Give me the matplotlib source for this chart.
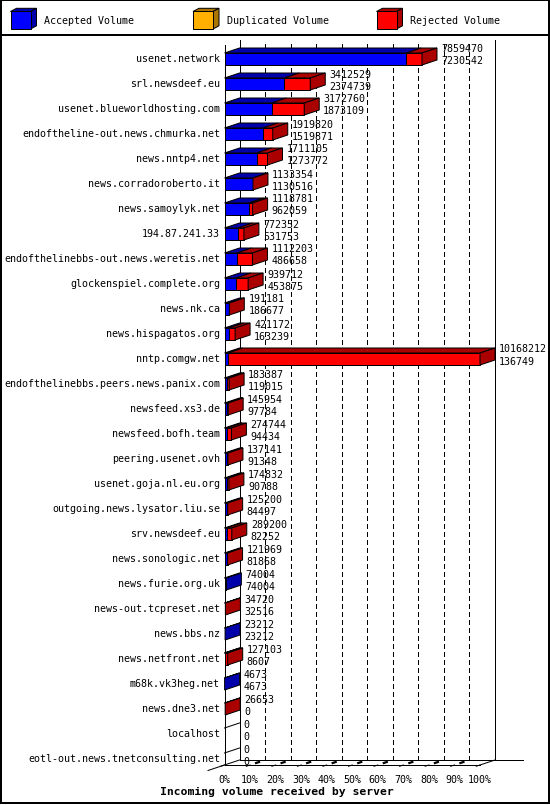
import matplotlib
matplotlib.use("Agg")
import matplotlib.pyplot as plt
from matplotlib.patches import Polygon, Rectangle
from matplotlib.lines import Line2D
from matplotlib.transforms import ScaledTranslation

# ---------------- data ----------------
servers = [
    "usenet.network", "srl.newsdeef.eu", "usenet.blueworldhosting.com",
    "endoftheline-out.news.chmurka.net", "news.nntp4.net",
    "news.corradoroberto.it", "news.samoylyk.net", "194.87.241.33",
    "endofthelinebbs-out.news.weretis.net", "glockenspiel.complete.org",
    "news.nk.ca", "news.hispagatos.org", "nntp.comgw.net",
    "endofthelinebbs.peers.news.panix.com", "newsfeed.xs3.de",
    "newsfeed.bofh.team", "peering.usenet.ovh", "usenet.goja.nl.eu.org",
    "outgoing.news.lysator.liu.se", "srv.newsdeef.eu", "news.sonologic.net",
    "news.furie.org.uk", "news-out.tcpreset.net", "news.bbs.nz",
    "news.netfront.net", "m68k.vk3heg.net", "news.dne3.net", "localhost",
    "eotl-out.news.tnetconsulting.net",
]
total_volume = [
    7859470, 3412529, 3172760, 1919820, 1711105, 1133354, 1118781, 772352,
    1112203, 939712, 191181, 421172, 10168212, 183387, 145954, 274744,
    137141, 174832, 125200, 289200, 121969, 74004, 34720, 23212, 127103,
    4673, 26653, 0, 0,
]
accepted_volume = [
    7230542, 2374739, 1873109, 1519871, 1273772, 1130516, 962059, 531753,
    486658, 453875, 186677, 163239, 136749, 119015, 97784, 94434, 91348,
    90788, 84497, 82252, 81868, 74004, 32516, 23212, 8607, 4673, 0, 0, 0,
]
duplicated_volume = [0] * len(servers)
rejected_volume = [t - a - d for t, a, d in
                   zip(total_volume, accepted_volume, duplicated_volume)]

series_names = ["Accepted Volume", "Duplicated Volume", "Rejected Volume"]
x_tick_labels = ["0%", "10%", "20%", "30%", "40%", "50%",
                 "60%", "70%", "80%", "90%", "100%"]
x_title = "Incoming volume received by server"

# ---------------- style ----------------
W, H, DPI = 550, 805, 100
FONT = "DejaVu Sans Mono"
FS = 7.2
FRONT = ["#0000ff", "#ffb000", "#ff0000"]
DARK = ["#0000aa", "#aa7500", "#aa0000"]
LW = 0.72
DEPTH_X, DEPTH_Y = 15, 5          # pixels (right, up)

fig = plt.figure(figsize=(W / DPI, H / DPI), dpi=DPI)
fig.patch.set_facecolor("white")

# front plane of the 3D chart
L_PX, R_PX, T_PX, B_PX = 224.5, 480.0, 45.0, 765.0
ROW_PX, FIRST_PX = 25.0, 59.0
ax = fig.add_axes([L_PX / W, (H - B_PX) / H, (R_PX - L_PX) / W, (B_PX - T_PX) / H])
ax.set_axis_off()
vmax = max(total_volume)
ax.set_xlim(0, vmax)
ax.set_ylim((B_PX - FIRST_PX) / ROW_PX, (T_PX - FIRST_PX) / ROW_PX)

# depth expressed in data units
dx = DEPTH_X / (R_PX - L_PX) * vmax
dy = -DEPTH_Y / ROW_PX
half = 6.0 / ROW_PX


def shift(px, py):
    return ScaledTranslation(px / DPI, py / DPI, fig.dpi_scale_trans)


xa = ax.get_xaxis_transform()            # x data, y axes
xa_back = xa + shift(DEPTH_X, DEPTH_Y)
axes_back = ax.transAxes + shift(DEPTH_X, DEPTH_Y)

line_kw = dict(color="black", lw=LW, clip_on=False, antialiased=False, zorder=1)

# back wall and grid
for k in range(0, 11):
    x = vmax * k / 10
    ls = "-" if k in (0, 10) else (0, (5, 4))
    ax.add_line(Line2D([x, x], [0, 1], transform=xa_back, ls=ls, **line_kw))
# front left axis
ax.add_line(Line2D([0, 0], [0, 1], transform=ax.transAxes, **line_kw))
# floor lines
ax.add_line(Line2D([0, 1.11], [0, 0], transform=axes_back, **line_kw))
ax.add_line(Line2D([0, 1], [0, 0], transform=ax.transAxes, **line_kw))


def depth_line(x_data, t0, t1, lw=LW):
    p0 = (xa + shift(t0 * DEPTH_X, t0 * DEPTH_Y)).transform((x_data, 0))
    p1 = (xa + shift(t1 * DEPTH_X, t1 * DEPTH_Y)).transform((x_data, 0))
    ax.add_line(Line2D([p0[0], p1[0]], [p0[1], p1[1]], transform=None,
                       color="black", lw=lw, clip_on=False, zorder=1))


depth_line(vmax, 0, 1)
depth_line(0, -1.1, 1)
for k in range(0, 11):
    x = vmax * k / 10
    depth_line(x, 0.0, -0.25)
    if 0 < k < 10:
        depth_line(x, 0.4, 0.6, lw=1.6)

# bars
for i in range(len(servers)):
    segs = [accepted_volume[i], duplicated_volume[i], rejected_volume[i]]
    top, bot = i - half, i + half
    x0 = 0.0
    last = None
    for k, v in enumerate(segs):
        if v <= 0:
            continue
        x1 = x0 + v
        ax.add_patch(Polygon([(x0, top), (x1, top), (x1 + dx, top + dy), (x0 + dx, top + dy)],
                             closed=True, fc=DARK[k], ec="black", lw=LW,
                             clip_on=False, zorder=3))
        ax.add_patch(Rectangle((x0, top), v, bot - top, fc=FRONT[k], ec="black",
                               lw=LW, clip_on=False, zorder=3))
        x0 = x1
        last = k
    if last is not None:
        ax.add_patch(Polygon([(x0, top), (x0, bot), (x0 + dx, bot + dy), (x0 + dx, top + dy)],
                             closed=True, fc=DARK[last], ec="black", lw=LW,
                             clip_on=False, zorder=3))
    else:
        ax.add_line(Line2D([0, dx], [top, top + dy], color="black", lw=LW,
                           clip_on=False, zorder=3))
    # value labels
    lab_tr = ax.transData + shift(4, 0)
    ax.text(x0 + dx, i - 9.5 / ROW_PX, str(total_volume[i]), transform=lab_tr,
            ha="left", va="center", fontsize=FS, family=FONT, zorder=4, clip_on=False)
    ax.text(x0 + dx, i + 2.5 / ROW_PX, str(accepted_volume[i]), transform=lab_tr,
            ha="left", va="center", fontsize=FS, family=FONT, zorder=4, clip_on=False)
    # category label
    ax.text(0, i, servers[i], transform=ax.transData + shift(-4.5, 0),
            ha="right", va="center", fontsize=FS, family=FONT, clip_on=False)

# x tick labels
tick_tr = xa + shift(0, -15)
for k, lab in enumerate(x_tick_labels):
    ax.text(vmax * k / 10, 0, lab, transform=tick_tr, ha="center", va="center",
            fontsize=FS, family=FONT, clip_on=False)

# ---------------- overlay (legend, frame, title) in pixel space ----------------
ov = fig.add_axes([0, 0, 1, 1], zorder=10)
ov.set_xlim(0, W)
ov.set_ylim(H, 0)
ov.set_axis_off()
ov.patch.set_alpha(0)

ov.add_patch(Rectangle((0.5, 0.5), W - 1.5, H - 2.5, fill=False, ec="black",
                       lw=1.44, antialiased=False))
ov.add_line(Line2D([0, W], [35.5, 35.5], color="black", lw=1.44, antialiased=False))

leg_x = [10.5, 193.0, 376.5]
for k, name in enumerate(series_names):
    x0 = leg_x[k]
    y0, y1 = 11.5, 29.0
    ddx, ddy = 6, -3.2
    ov.add_patch(Polygon([(x0, y0), (x0 + 20, y0), (x0 + 20 + ddx, y0 + ddy), (x0 + ddx, y0 + ddy)],
                         fc=DARK[k], ec="black", lw=LW))
    ov.add_patch(Polygon([(x0 + 20, y0), (x0 + 20, y1), (x0 + 20 + ddx, y1 + ddy),
                          (x0 + 20 + ddx, y0 + ddy)], fc=DARK[k], ec="black", lw=LW))
    ov.add_patch(Rectangle((x0, y0), 20, y1 - y0, fc=FRONT[k], ec="black", lw=LW))
    ov.text(x0 + 34, 20.5, name, ha="left", va="center", fontsize=FS, family=FONT)

ov.text(276.5, 791.5, x_title, ha="center", va="center", fontsize=8.2,
        family=FONT, fontweight="bold")

fig.savefig("out.png", dpi=DPI, facecolor="white")
